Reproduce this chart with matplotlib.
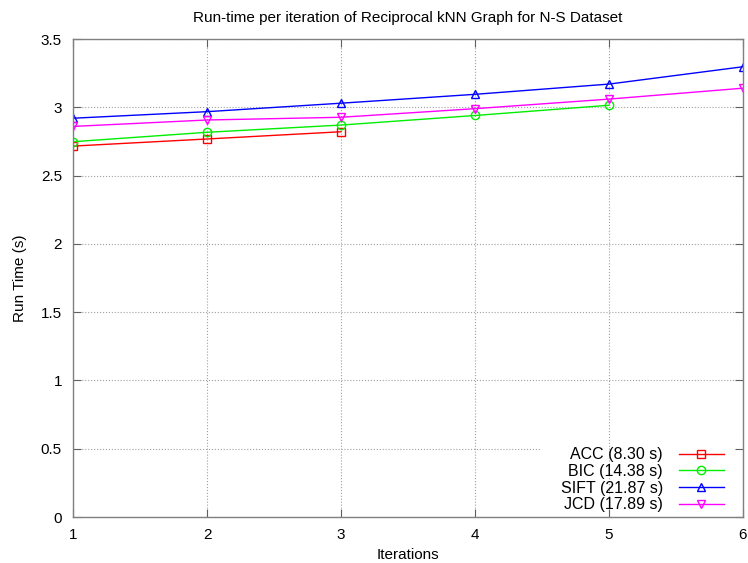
import matplotlib
matplotlib.use('Agg')
import matplotlib.pyplot as plt

plt.rcParams['font.family'] = ['Liberation Sans', 'DejaVu Sans']

iterations = [1, 2, 3, 4, 5, 6]
acc = [2.716, 2.768, 2.821]
bic = [2.748, 2.817, 2.870, 2.940, 3.015]
sift = [2.920, 2.968, 3.030, 3.095, 3.170, 3.297]
jcd = [2.860, 2.907, 2.927, 2.990, 3.060, 3.140]

series = [
    ('ACC (8.30 s)', acc, '#ff0000', 's'),
    ('BIC (14.38 s)', bic, '#00ee00', 'o'),
    ('SIFT (21.87 s)', sift, '#0000ff', '^'),
    ('JCD (17.89 s)', jcd, '#ff00ff', 'v'),
]

fig = plt.figure(figsize=(7.48, 5.63), dpi=100)
ax = fig.add_axes([0.0976, 0.0817, 0.8957, 0.849])

for label, vals, color, marker in series:
    ax.plot(iterations[:len(vals)], vals, color=color, linewidth=1.0,
            marker=marker, markersize=6, markerfacecolor='none',
            markeredgecolor=color, markeredgewidth=1.0, label=label)

ax.set_xlim(1, 6)
ax.set_ylim(0, 3.5)
ax.set_xticks(iterations)
ax.set_yticks([0, 0.5, 1, 1.5, 2, 2.5, 3, 3.5])
ax.set_yticklabels(['0', '0.5', '1', '1.5', '2', '2.5', '3', '3.5'])
ax.grid(True, color='#a0a0a0', linestyle=':', linewidth=0.8)
ax.tick_params(direction='in', length=6, width=0.8, color='#606060',
               top=True, right=True, labelsize=11, pad=8)
for s in ax.spines.values():
    s.set_color('#808080')
    s.set_linewidth(1.0)

# gnuplot stops the 0.5 grid line where the key starts
ax.get_ygridlines()[1].set_xdata([0, 0.697])

ax.set_title('Run-time per iteration of Reciprocal kNN Graph for N-S Dataset',
             fontsize=11, pad=12)
ax.set_xlabel('Iterations', fontsize=11, labelpad=4)
ax.set_ylabel('Run Time (s)', fontsize=11, labelpad=10)

leg = ax.legend(loc='lower right', bbox_to_anchor=(0.9785, 0.0),
                markerfirst=False, fontsize=11.5, frameon=False,
                handlelength=2.8, handletextpad=1.0, labelspacing=0.1,
                borderpad=0.3, borderaxespad=0)
for t in leg.get_texts():
    t.set_ha('right')

fig.savefig('out.png', dpi=100)
